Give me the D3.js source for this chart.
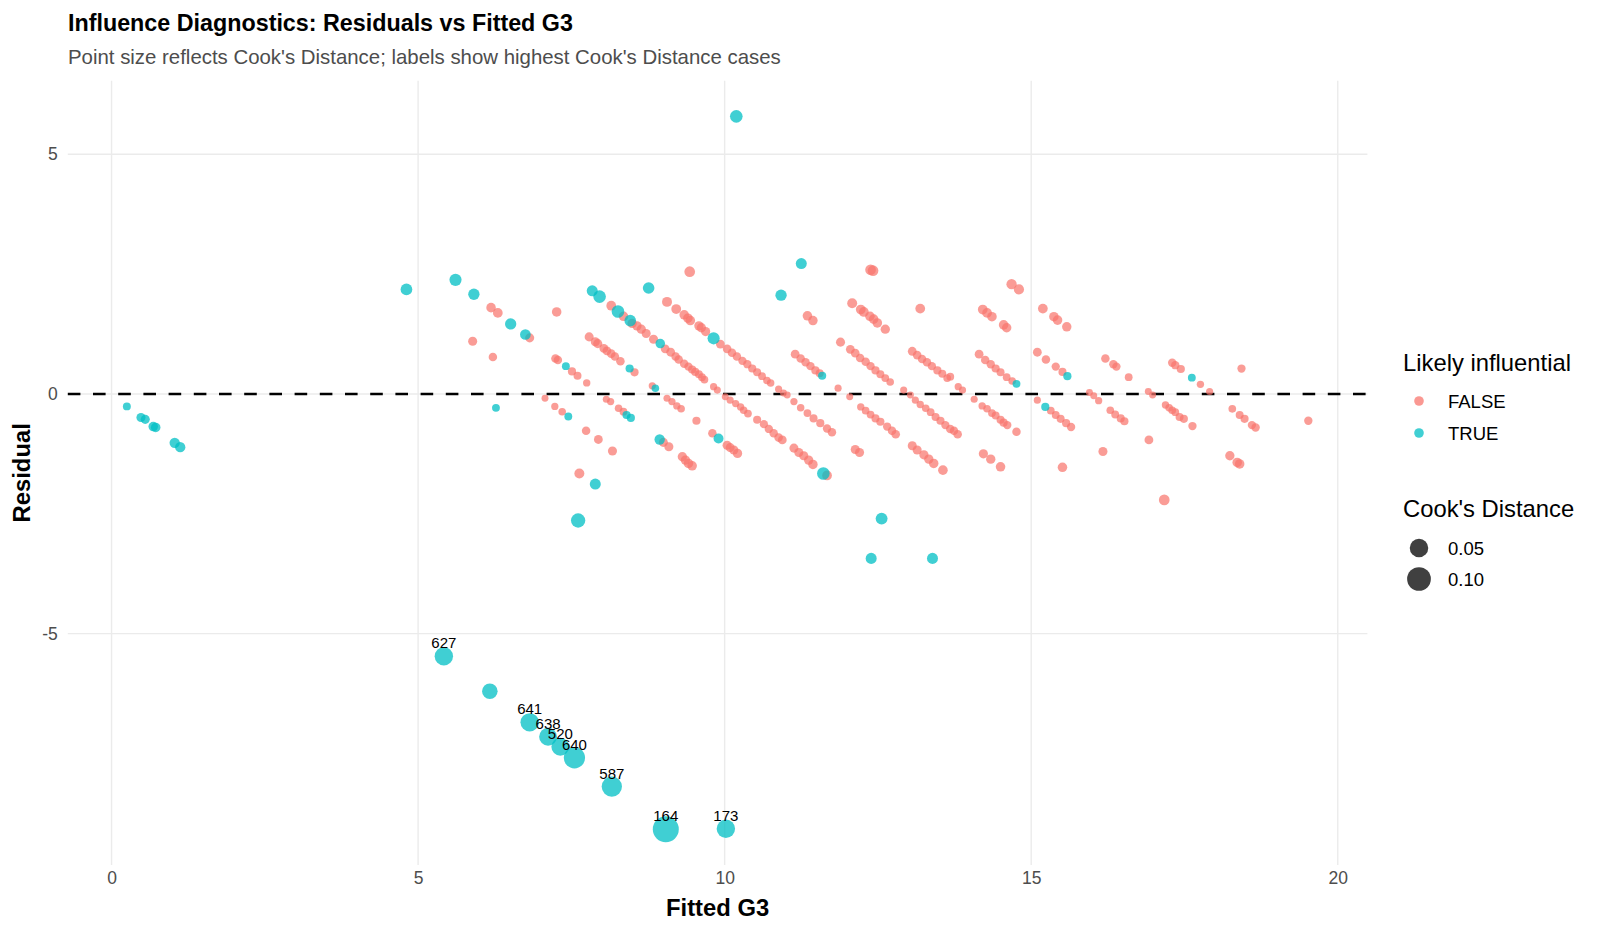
<!DOCTYPE html>
<html><head><meta charset="utf-8">
<script src="https://cdn.jsdelivr.net/npm/d3@7"></script>
<style>
body{margin:0;background:#fff}
svg{display:block}
text{font-family:"Liberation Sans",Arial,Helvetica,sans-serif}
</style>
</head><body>
<svg id="chart" width="1600" height="933"></svg>
<script>
// ---- data ----
const categories = ["FALSE", "TRUE"];
const categoryColors = ["#F8766D", "#00BFC4"];
const sizeBreaks = [0.05, 0.10];
const sizeBreakLabels = ["0.05", "0.10"];
const xTicks = [0, 5, 10, 15, 20];
const yTicks = [-5, 0, 5];

// [fitted, residual, cooksDistance]
const pointsFalse = [
  [7.63,-1.66,0.005],
  [5.89,1.10,0.003],[6.22,0.77,0.002],[7.07,-0.09,0.0003],[7.23,-0.26,0.0005],[7.35,-0.37,0.0008],[7.74,-0.77,0.002],[7.94,-0.95,0.0025],[8.17,-1.19,0.003],
  [6.19,1.80,0.004],[6.30,1.69,0.0045],[6.82,1.17,0.003],[7.24,0.74,0.002],[7.28,0.71,0.002],[7.51,0.47,0.0015],[7.60,0.38,0.0012],[7.75,0.23,0.0006],[8.07,-0.11,0.0004],[8.14,-0.16,0.0005],[8.27,-0.30,0.0008],[8.35,-0.37,0.001],[9.00,-1.01,0.003],[9.09,-1.10,0.003],[9.31,-1.31,0.0035],[9.36,-1.38,0.0035],[9.41,-1.45,0.004],[9.47,-1.50,0.004],
  [7.26,1.71,0.004],[7.79,1.19,0.003],[7.89,1.09,0.003],[7.93,1.05,0.003],[8.03,0.95,0.0025],[8.08,0.90,0.0025],[8.15,0.84,0.0022],[8.21,0.78,0.002],[8.30,0.68,0.002],[8.53,0.45,0.0015],[8.82,0.17,0.0005],[9.06,-0.09,0.0004],[9.14,-0.16,0.0005],[9.22,-0.25,0.0006],[9.29,-0.31,0.0008],[9.54,-0.56,0.0015],[9.80,-0.82,0.002],[10.04,-1.07,0.003],[10.09,-1.12,0.003],[10.15,-1.17,0.003],[10.21,-1.24,0.0035],
  [8.15,1.84,0.0045],[8.35,1.62,0.004],[8.49,1.47,0.0035],[8.57,1.42,0.0035],[8.64,1.35,0.0035],[8.72,1.26,0.003],[8.84,1.14,0.003],[9.03,0.94,0.0025],[9.12,0.87,0.0025],[9.20,0.78,0.002],[9.25,0.72,0.002],[9.34,0.63,0.002],[9.41,0.57,0.0018],[9.47,0.51,0.0015],[9.52,0.46,0.0015],[9.58,0.41,0.0012],[9.63,0.35,0.001],[9.67,0.30,0.001],[9.82,0.15,0.0005],[9.88,0.08,0.0004],[10.01,-0.06,0.0003],[10.09,-0.13,0.0004],[10.18,-0.20,0.0005],[10.26,-0.27,0.0006],[10.31,-0.34,0.0008],[10.38,-0.41,0.001],[10.53,-0.54,0.0014],[10.64,-0.63,0.0016],[10.72,-0.73,0.0018],[10.80,-0.82,0.002],[10.88,-0.91,0.0022],[10.94,-0.96,0.0024],[11.13,-1.13,0.003],[11.21,-1.22,0.003],[11.29,-1.29,0.0032],[11.37,-1.38,0.0035],[11.44,-1.47,0.0038],[11.67,-1.70,0.0045],
  [9.06,1.92,0.005],[9.21,1.77,0.0045],[9.34,1.65,0.004],[9.40,1.58,0.004],[9.44,1.53,0.004],[9.58,1.42,0.0035],[9.62,1.38,0.0035],[9.69,1.30,0.0033],[9.93,1.04,0.0025],[10.04,0.94,0.0023],[10.12,0.86,0.0022],[10.20,0.78,0.002],[10.29,0.69,0.0018],[10.37,0.62,0.0017],[10.45,0.53,0.0015],[10.53,0.45,0.0013],[10.61,0.37,0.001],[10.69,0.28,0.0008],[10.75,0.23,0.0007],[10.88,0.10,0.0004],[10.96,0.02,0.0003],[11.02,-0.02,0.0003],[11.13,-0.16,0.0005],[11.24,-0.29,0.0007],[11.35,-0.40,0.001],[11.45,-0.51,0.0013],[11.56,-0.61,0.0015],[11.67,-0.72,0.0018],[11.75,-0.80,0.002],[12.13,-1.16,0.003],[12.20,-1.22,0.003],
  [9.43,2.55,0.007],[11.15,0.83,0.0025],[11.24,0.74,0.002],[11.32,0.66,0.002],[11.40,0.58,0.0018],[11.48,0.49,0.0015],[11.55,0.43,0.0013],[11.85,0.12,0.0004],[12.04,-0.06,0.0003],[12.22,-0.27,0.0006],[12.30,-0.35,0.0009],[12.38,-0.43,0.001],[12.46,-0.51,0.0013],[12.54,-0.58,0.0015],[12.65,-0.68,0.0017],[12.73,-0.77,0.002],[12.79,-0.84,0.0022],[13.06,-1.08,0.003],[13.14,-1.17,0.003],[13.25,-1.27,0.0033],[13.33,-1.36,0.0035],[13.41,-1.45,0.0038],[13.56,-1.59,0.0042],
  [11.35,1.63,0.004],[11.44,1.53,0.0038],[11.89,1.08,0.003],[12.05,0.93,0.0025],[12.13,0.85,0.0023],[12.21,0.75,0.002],[12.30,0.67,0.002],[12.38,0.58,0.0017],[12.46,0.49,0.0015],[12.54,0.41,0.0012],[12.62,0.33,0.001],[12.70,0.25,0.0008],[12.92,0.08,0.0004],[13.03,-0.02,0.0003],[13.11,-0.13,0.0004],[13.19,-0.22,0.0006],[13.28,-0.30,0.0008],[13.36,-0.38,0.001],[13.44,-0.48,0.0013],[13.52,-0.56,0.0015],[13.60,-0.65,0.0017],[13.68,-0.73,0.002],[13.74,-0.77,0.002],[13.80,-0.84,0.0022],[14.22,-1.25,0.0033],[14.34,-1.36,0.0035],[14.50,-1.52,0.004],
  [12.08,1.89,0.005],[12.22,1.76,0.0045],[12.27,1.71,0.0045],[12.37,1.62,0.004],[12.43,1.56,0.004],[12.49,1.48,0.004],[12.62,1.35,0.0035],[13.06,0.89,0.0025],[13.14,0.81,0.0022],[13.22,0.73,0.002],[13.30,0.66,0.002],[13.38,0.58,0.0017],[13.47,0.49,0.0015],[13.55,0.42,0.0013],[13.63,0.33,0.001],[13.68,0.36,0.001],[13.81,0.15,0.0005],[13.88,0.08,0.0004],[14.07,-0.11,0.0004],[14.20,-0.25,0.0006],[14.28,-0.31,0.0008],[14.36,-0.40,0.001],[14.42,-0.45,0.0012],[14.50,-0.54,0.0014],[14.55,-0.60,0.0015],[14.61,-0.65,0.0017],[14.76,-0.79,0.002],[15.51,-1.53,0.004],
  [12.38,2.59,0.007],[12.42,2.57,0.007],[13.19,1.78,0.0045],[14.15,0.83,0.0025],[14.25,0.71,0.002],[14.34,0.62,0.0018],[14.42,0.53,0.0015],[14.50,0.45,0.0013],[14.60,0.35,0.001],[14.69,0.27,0.0008],[15.10,-0.13,0.0004],[15.32,-0.35,0.0009],[15.40,-0.44,0.0011],[15.48,-0.52,0.0013],[15.57,-0.61,0.0015],[15.65,-0.69,0.0018],[16.17,-1.20,0.003],[17.17,-2.21,0.007],
  [14.21,1.76,0.0045],[14.28,1.69,0.0045],[14.36,1.61,0.004],[14.55,1.44,0.004],[14.60,1.38,0.0038],[15.10,0.87,0.0025],[15.24,0.72,0.002],[15.40,0.57,0.0017],[15.51,0.46,0.0014],[15.95,0.03,0.0003],[16.02,-0.04,0.0003],[16.10,-0.14,0.0005],[16.29,-0.34,0.0009],[16.37,-0.43,0.0011],[16.46,-0.51,0.0013],[16.52,-0.57,0.0015],[16.92,-0.96,0.0025],
  [14.68,2.29,0.006],[14.80,2.18,0.0055],[15.19,1.78,0.0045],[15.37,1.61,0.004],[15.43,1.54,0.004],[15.58,1.40,0.0037],[16.21,0.74,0.002],[16.34,0.62,0.0018],[16.39,0.57,0.0017],[16.59,0.35,0.001],[16.91,0.05,0.0003],[16.98,-0.02,0.0003],[17.19,-0.23,0.0006],[17.25,-0.29,0.0008],[17.30,-0.34,0.0009],[17.35,-0.38,0.001],[17.42,-0.48,0.0013],[17.49,-0.52,0.0014],[17.63,-0.67,0.0017],[18.24,-1.29,0.0035],[18.36,-1.43,0.004],[18.40,-1.46,0.004],
  [17.30,0.65,0.0019],[17.35,0.60,0.0018],[17.44,0.52,0.0015],[17.76,0.20,0.0006],[17.91,0.05,0.0004],[18.28,-0.31,0.0009],[18.40,-0.44,0.0012],[18.48,-0.52,0.0014],[18.60,-0.65,0.0017],[18.66,-0.70,0.0019],
  [18.43,0.53,0.0016],[19.52,-0.56,0.0018]
];

// [fitted, residual, cooksDistance, caseLabel]
const pointsTrue = [
  [0.25,-0.26,0.0012,""],[0.48,-0.49,0.003,""],[0.55,-0.53,0.003,""],[0.68,-0.68,0.004,""],[0.72,-0.70,0.004,""],[1.03,-1.02,0.006,""],[1.12,-1.11,0.006,""],
  [4.81,2.18,0.0103,""],[5.61,2.38,0.012,""],[5.91,2.08,0.009,""],[6.51,1.46,0.009,""],[6.75,1.24,0.007,""],[6.27,-0.29,0.0011,""],
  [7.41,0.58,0.0011,""],[7.45,-0.47,0.0011,""],[7.89,-1.88,0.008,""],[7.61,-2.64,0.022,""],
  [7.84,2.15,0.008,""],[7.96,2.03,0.014,""],[8.26,1.72,0.014,""],[8.46,1.53,0.010,""],[8.76,2.21,0.010,""],
  [8.45,0.53,0.0015,""],[8.40,-0.44,0.0015,""],[8.47,-0.50,0.0015,""],[8.87,0.12,0.0008,""],[8.94,-0.95,0.006,""],[8.95,1.05,0.004,""],
  [9.82,1.16,0.012,""],[9.90,-0.93,0.005,""],[10.19,5.79,0.014,""],[10.92,2.06,0.009,""],[11.25,2.72,0.008,""],
  [11.59,0.38,0.0015,""],[11.61,-1.66,0.014,""],[12.39,-3.43,0.008,""],[13.39,-3.43,0.008,""],[12.56,-2.60,0.011,""],
  [14.76,0.21,0.0011,""],[15.59,0.37,0.0015,""],[15.23,-0.27,0.0015,""],[17.62,0.34,0.0011,""],
  [5.42,-5.47,0.049,"627"],[6.17,-6.20,0.029,""],[6.82,-6.85,0.049,"641"],[7.12,-7.15,0.045,"638"],
  [7.32,-7.36,0.045,"520"],[7.55,-7.59,0.074,"640"],[8.16,-8.19,0.065,"587"],[9.04,-9.08,0.127,"164"],[10.02,-9.07,0.049,"173"]
];

// ---- layout ----
const svg = d3.select("#chart");
const W = 1600, H = 933;
const panel = {left: 67.8, right: 1367.4, top: 80.7, bottom: 864.9};
const FONT = '"Liberation Sans",Arial,Helvetica,sans-serif';

const allPts = pointsFalse.concat(pointsTrue);
const xExt = d3.extent(allPts, d => d[0]);
const yExt = d3.extent(allPts, d => d[1]);
const xPad = (xExt[1] - xExt[0]) * 0.05, yPad = (yExt[1] - yExt[0]) * 0.05;
const x = d3.scaleLinear().domain([xExt[0] - xPad, xExt[1] + xPad]).range([panel.left, panel.right]);
const y = d3.scaleLinear().domain([yExt[0] - yPad, yExt[1] + yPad]).range([panel.bottom, panel.top]);
const rScale = d3.scaleSqrt().domain([0, d3.max(allPts, d => d[2])]).range([3, 13]);
const color = d3.scaleOrdinal().domain(categories).range(categoryColors);

svg.append("rect").attr("width", W).attr("height", H).attr("fill", "#fff");

// grid
const grid = svg.append("g");
grid.selectAll("line.v").data(xTicks).join("line")
  .attr("x1", d => x(d)).attr("x2", d => x(d))
  .attr("y1", panel.top).attr("y2", panel.bottom)
  .attr("stroke", "#EBEBEB").attr("stroke-width", 1.4);
grid.selectAll("line.h").data(yTicks).join("line")
  .attr("y1", d => y(d)).attr("y2", d => y(d))
  .attr("x1", panel.left).attr("x2", panel.right)
  .attr("stroke", "#EBEBEB").attr("stroke-width", 1.4);

// axes (labels only, no domain/ticks as in theme_minimal)
const fmt = d => String(d);
const xAxis = d3.axisBottom(x).tickValues(xTicks).tickSize(0).tickPadding(7).tickFormat(fmt);
const gx = svg.append("g").attr("transform", `translate(0,${panel.bottom})`).call(xAxis);
gx.select(".domain").remove();
gx.selectAll("text").attr("font-size", 17.5).attr("fill", "#4D4D4D").attr("font-family", FONT);

const yAxis = d3.axisLeft(y).tickValues(yTicks).tickSize(0).tickPadding(10).tickFormat(fmt);
const gy = svg.append("g").attr("transform", `translate(${panel.left},0)`).call(yAxis);
gy.select(".domain").remove();
gy.selectAll("text").attr("font-size", 17.5).attr("fill", "#4D4D4D").attr("font-family", FONT);

// reference line at 0
svg.append("line")
  .attr("x1", panel.left).attr("x2", panel.right)
  .attr("y1", y(0)).attr("y2", y(0))
  .attr("stroke", "#000").attr("stroke-width", 2.6)
  .attr("stroke-dasharray", "12.6,12.6");

// points
const pts = svg.append("g");
pts.selectAll("circle.f").data(pointsFalse).join("circle")
  .attr("cx", d => x(d[0])).attr("cy", d => y(d[1])).attr("r", d => rScale(d[2]))
  .attr("fill", color("FALSE")).attr("fill-opacity", 0.72);
pts.selectAll("circle.t").data(pointsTrue).join("circle")
  .attr("cx", d => x(d[0])).attr("cy", d => y(d[1])).attr("r", d => rScale(d[2]))
  .attr("fill", color("TRUE")).attr("fill-opacity", 0.75);

// case labels
svg.append("g").selectAll("text").data(pointsTrue.filter(d => d[3] !== "")).join("text")
  .attr("x", d => x(d[0])).attr("y", d => y(d[1]) - 8)
  .attr("text-anchor", "middle").attr("font-size", 15).attr("fill", "#000")
  .text(d => d[3]);

// titles
svg.append("text").attr("x", 68).attr("y", 31).attr("font-size", 23.3).attr("font-weight", "bold")
  .attr("fill", "#000").text("Influence Diagnostics: Residuals vs Fitted G3");
svg.append("text").attr("x", 68).attr("y", 64).attr("font-size", 20.4).attr("fill", "#4D4D4D")
  .text("Point size reflects Cook's Distance; labels show highest Cook's Distance cases");
svg.append("text").attr("x", (panel.left + panel.right) / 2).attr("y", 916)
  .attr("text-anchor", "middle").attr("font-size", 23.8).attr("font-weight", "bold").text("Fitted G3");
svg.append("text").attr("transform", `translate(30,${(panel.top + panel.bottom) / 2}) rotate(-90)`)
  .attr("text-anchor", "middle").attr("font-size", 23.8).attr("font-weight", "bold").text("Residual");

// legends
const lg = svg.append("g");
lg.append("text").attr("x", 1403).attr("y", 371).attr("font-size", 23.8).text("Likely influential");
categories.forEach((c, i) => {
  const cy = 401 + i * 32;
  lg.append("circle").attr("cx", 1419).attr("cy", cy).attr("r", 4.8)
    .attr("fill", color(c)).attr("fill-opacity", 0.75);
  lg.append("text").attr("x", 1448).attr("y", cy + 6.5).attr("font-size", 18.5).attr("fill", "#000").text(c);
});
lg.append("text").attr("x", 1403).attr("y", 517).attr("font-size", 23.8).text("Cook's Distance");
sizeBreaks.forEach((b, i) => {
  const cy = 548 + i * 31;
  lg.append("circle").attr("cx", 1419).attr("cy", cy).attr("r", rScale(b))
    .attr("fill", "#000").attr("fill-opacity", 0.75);
  lg.append("text").attr("x", 1448).attr("y", cy + 6.5).attr("font-size", 18.5).attr("fill", "#000").text(sizeBreakLabels[i]);
});
</script>
</body></html>
